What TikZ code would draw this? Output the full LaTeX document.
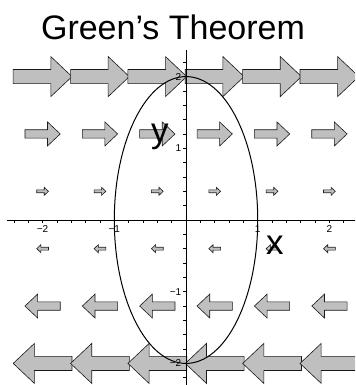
\documentclass[tikz,border=0pt]{standalone}
\usepackage{fontspec}
\setmainfont{Liberation Sans}
\usetikzlibrary{positioning}
\tikzset{
  vec/.style      = {draw=black!90, fill=black!25, line width=0.6pt, line join=miter},
  axisline/.style = {draw=black, line width=0.8pt},
  tickmark/.style = {draw=black, line width=0.6pt},
  ticklbl/.style  = {font=\fontsize{10}{10}\selectfont, inner sep=1pt},
  curve/.style    = {draw=black, line width=1pt},
  ttl/.style      = {font=\fontsize{34}{34}\selectfont, inner sep=0pt},
  axlbl/.style    = {font=\fontsize{35}{35}\selectfont, inner sep=0pt},
}
\begin{document}
\begin{tikzpicture}[x=71.7pt, y=71.7pt]

  \useasboundingbox (-2.594,-2.301) rectangle (2.357,3.068);
  \clip (-2.594,-2.301) rectangle (2.357,3.068);

  % field arrows
  \foreach \yy in {-2,-1.2,-0.4,0.4,1.2,2}{
    \foreach \xx in {-2,-1.2,-0.4,0.4,1.2,2}{
      \pgfmathsetmacro{\L}{0.41*\yy}
      \draw[vec] ({\xx-\L/2},{\yy+0.12*\L}) -- ({\xx+0.14*\L},{\yy+0.12*\L})
        -- ({\xx+0.14*\L},{\yy+0.34*\L}) -- ({\xx+\L/2},\yy)
        -- ({\xx+0.14*\L},{\yy-0.34*\L}) -- ({\xx+0.14*\L},{\yy-0.12*\L})
        -- ({\xx-\L/2},{\yy-0.12*\L}) -- cycle;
    }
  }

  % axes
  \coordinate (xmin) at (-2.5,0);
  \coordinate (xmax) at (2.4,0);
  \coordinate (ymin) at (0,-2.35);
  \coordinate (ymax) at (0,2.37);
  \draw[axisline] (xmin) -- (xmax);
  \draw[axisline] (ymin) -- (ymax);
  \foreach \i in {-12,...,11}
    \draw[tickmark] ({\i/5},0) -- ({\i/5},-0.045);
  \foreach \i in {-11,...,11}
    \draw[tickmark] (0,{\i/5}) -- (-0.045,{\i/5});

  \foreach \v/\s in {-2/−2,-1/−1,1/1,2/2}{
    \node[ticklbl, anchor=north] (xt\v) at (\v,-0.06) {\s};
    \node[ticklbl, anchor=east] (yt\v) at (-0.05,\v) {\s};
  }

  % curve
  \draw[curve] (0,0) ellipse [x radius=1, y radius=2];

  \node[ttl, anchor=base] (title) at (-0.181,2.524) {Green's Theorem};
  \node[axlbl, anchor=base] (ylbl) at (-0.363,1.074) {y};
  \node[axlbl, anchor=base] (xlbl) at (1.241,-0.488) {x};

\end{tikzpicture}
\end{document}
